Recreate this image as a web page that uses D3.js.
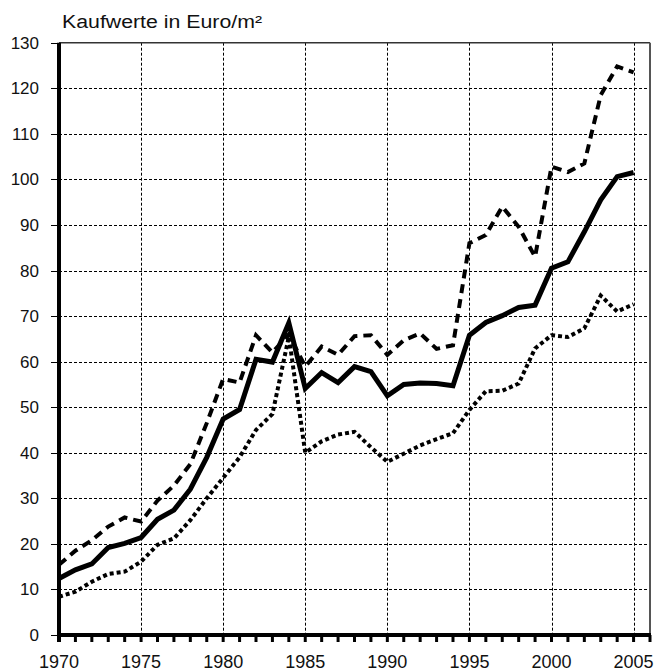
<!DOCTYPE html>
<html>
<head>
<meta charset="utf-8">
<script src="https://cdn.jsdelivr.net/npm/d3@7"></script>
<style>
  body { margin: 0; background: #fff; }
  svg { display: block; font-family: Arial, "Liberation Sans", sans-serif; }
</style>
</head>
<body>
<svg id="chart" width="658" height="672"></svg>
<script>
const years = d3.range(1970, 2006);

// Kaufwerte in Euro/m²
const highValues = [15.4, 18.5, 20.8, 23.8, 25.8, 24.9, 29.5, 32.8, 37.5, 46.5,
  56.2, 55.4, 65.8, 62.0, 66.0, 58.9, 63.3, 61.5, 65.6, 65.8,
  61.5, 64.7, 66.2, 62.8, 63.6, 86.0, 87.8, 94.0, 89.6, 83.0,
  102.8, 101.6, 103.5, 118.5, 124.8, 123.5];
const meanValues = [12.4, 14.3, 15.6, 19.2, 20.1, 21.4, 25.4, 27.4, 32.0, 39.0,
  47.4, 49.5, 60.5, 59.9, 68.5, 54.1, 57.6, 55.4, 58.9, 57.8,
  52.5, 55.0, 55.3, 55.2, 54.7, 65.8, 68.6, 70.1, 71.9, 72.4,
  80.5, 81.9, 88.5, 95.5, 100.6, 101.5];
const lowValues = [8.4, 9.5, 11.7, 13.4, 13.9, 16.1, 19.8, 21.2, 25.2, 30.0,
  34.5, 39.0, 45.0, 48.5, 65.5, 40.0, 42.5, 44.0, 44.6, 41.2,
  38.0, 39.8, 41.6, 43.0, 44.3, 49.4, 53.5, 53.6, 55.2, 62.9,
  65.8, 65.4, 67.3, 74.5, 71.0, 72.6];

const yTicks = d3.range(0, 131, 10);
const xLabelYears = [1970, 1975, 1980, 1985, 1990, 1995, 2000, 2005];
const title = "Kaufwerte in Euro/m²";

const plotLeft = 59, plotRight = 650, plotTop = 42.7, plotBottom = 635;

const svg = d3.select("#chart");

const x = d3.scaleLinear().domain([1970, 2006]).range([plotLeft, plotRight]);
const y = d3.scaleLinear().domain([0, 130]).range([plotBottom, plotTop]);

// grid
const grid = svg.append("g")
  .attr("stroke", "#000")
  .attr("stroke-width", 1)
  .attr("stroke-dasharray", "3,2");

grid.selectAll("line.h")
  .data(yTicks.filter(d => d > 0 && d < 130))
  .join("line")
    .attr("class", "h")
    .attr("x1", plotLeft).attr("x2", plotRight)
    .attr("y1", d => Math.round(y(d)) + 0.5)
    .attr("y2", d => Math.round(y(d)) + 0.5);

grid.selectAll("line.v")
  .data(xLabelYears.filter(d => d > 1970))
  .join("line")
    .attr("class", "v")
    .attr("y1", plotTop).attr("y2", plotBottom)
    .attr("x1", d => Math.round(x(d)) + 0.5)
    .attr("x2", d => Math.round(x(d)) + 0.5);

// frame (top and right)
svg.append("line")
  .attr("x1", plotLeft).attr("x2", plotRight)
  .attr("y1", plotTop).attr("y2", plotTop)
  .attr("stroke", "#333").attr("stroke-width", 1.5);
svg.append("line")
  .attr("x1", plotRight).attr("x2", plotRight)
  .attr("y1", plotTop).attr("y2", plotBottom)
  .attr("stroke", "#555").attr("stroke-width", 2);

// series
const line = vals => d3.line()
  .x((d, i) => x(years[i]))
  .y(d => y(d))(vals);

svg.append("path")
  .attr("d", line(highValues))
  .attr("fill", "none")
  .attr("stroke", "#000")
  .attr("stroke-width", 4)
  .attr("stroke-dasharray", "9,6");

svg.append("path")
  .attr("d", line(lowValues))
  .attr("fill", "none")
  .attr("stroke", "#000")
  .attr("stroke-width", 4)
  .attr("stroke-dasharray", "4,3");

svg.append("path")
  .attr("d", line(meanValues))
  .attr("fill", "none")
  .attr("stroke", "#000")
  .attr("stroke-width", 5)
  .attr("stroke-linejoin", "miter");

// y axis
const yAxis = svg.append("g");
yAxis.selectAll("line")
  .data(yTicks)
  .join("line")
    .attr("x1", plotLeft - 8).attr("x2", plotLeft)
    .attr("y1", d => Math.round(y(d)) + 0.5)
    .attr("y2", d => Math.round(y(d)) + 0.5)
    .attr("stroke", "#000");
yAxis.selectAll("text")
  .data(yTicks)
  .join("text")
    .attr("x", 39)
    .attr("y", d => y(d) + 6)
    .attr("text-anchor", "end")
    .attr("font-size", 17)
    .attr("fill", "#111")
    .text(d => d);
svg.append("line")
  .attr("x1", plotLeft).attr("x2", plotLeft)
  .attr("y1", plotTop).attr("y2", plotBottom + 7)
  .attr("stroke", "#000").attr("stroke-width", 4);

// x axis
svg.append("g").selectAll("line")
  .data(years.concat([2006]))
  .join("line")
    .attr("x1", d => x(d)).attr("x2", d => x(d))
    .attr("y1", plotBottom).attr("y2", plotBottom + 7)
    .attr("stroke", "#000").attr("stroke-width", 3);
svg.append("line")
  .attr("x1", plotLeft - 2).attr("x2", plotRight + 1)
  .attr("y1", plotBottom).attr("y2", plotBottom)
  .attr("stroke", "#000").attr("stroke-width", 4);

svg.append("g").selectAll("text")
  .data(xLabelYears)
  .join("text")
    .attr("x", d => x(d))
    .attr("y", 668)
    .attr("text-anchor", "middle")
    .attr("font-size", 18)
    .attr("fill", "#111")
    .text(d => d);

svg.append("text")
  .attr("x", 62)
  .attr("y", 28)
  .attr("font-size", 18)
  .attr("fill", "#111")
  .attr("textLength", 200)
  .attr("lengthAdjust", "spacingAndGlyphs")
  .text(title);
</script>
</body>
</html>
